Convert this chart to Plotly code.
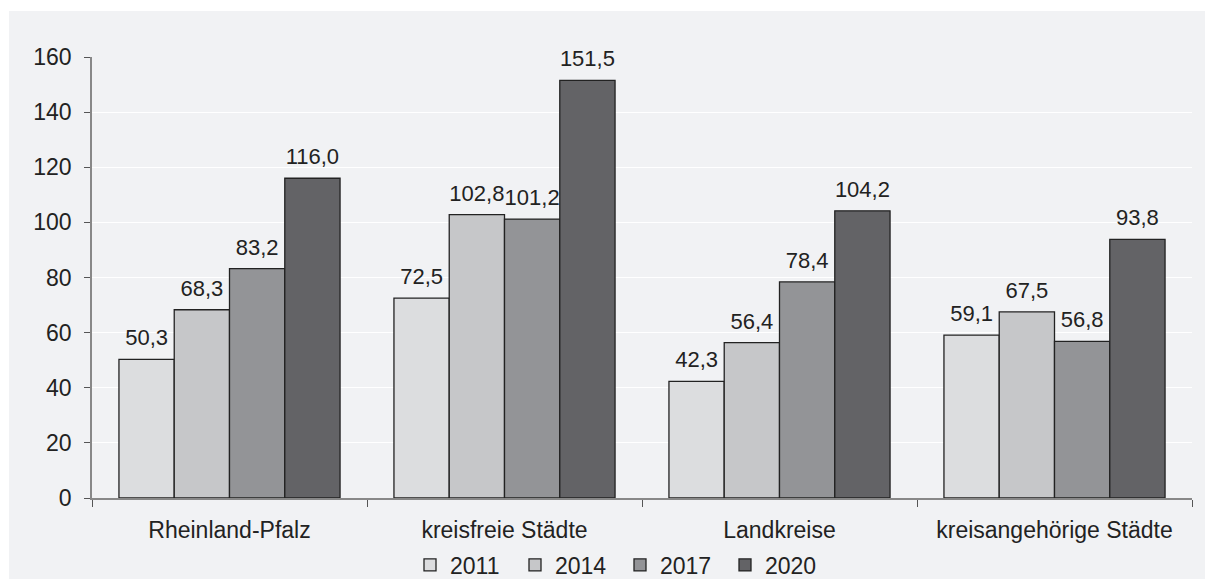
import plotly.graph_objects as go

categories = ["Rheinland-Pfalz", "kreisfreie Städte", "Landkreise", "kreisangehörige Städte"]
years = ["2011", "2014", "2017", "2020"]
v2011 = [50.3, 72.5, 42.3, 59.1]
v2014 = [68.3, 102.8, 56.4, 67.5]
v2017 = [83.2, 101.2, 78.4, 56.8]
v2020 = [116.0, 151.5, 104.2, 93.8]
colors = ["#dcdddf", "#c6c7c9", "#939497", "#636366"]
series = [v2011, v2014, v2017, v2020]

FONT = "Liberation Sans, Arial, sans-serif"
FS = 23

fig = go.Figure()
for name, vals, col in zip(years, series, colors):
    fig.add_trace(go.Bar(
        x=categories, y=vals, name=name, offsetgroup=name,
        marker=dict(color=col, line=dict(color="#222222", width=1.3)),
    ))
for name, vals in zip(years, series):
    fig.add_trace(go.Scatter(
        x=categories, y=vals, name=name, offsetgroup=name,
        mode="markers+text", marker=dict(size=12, color="rgba(0,0,0,0)"),
        text=[f"{v:.1f}".replace(".", ",") for v in vals],
        textposition="top center",
        textfont=dict(family=FONT, size=22, color="#222222"),
        showlegend=False, cliponaxis=False, hoverinfo="skip",
    ))

L, R, T, B = 92, 13, 57, 81
W, H = 1205, 579
pw, ph = W - L - R, H - T - B

fig.add_shape(type="rect", xref="paper", yref="paper",
              x0=(9 - L) / pw, x1=(W + 5 - L) / pw,
              y0=(T + ph - H - 5) / ph, y1=(T + ph - 11) / ph,
              fillcolor="#f1f2f4", line=dict(width=0), layer="below")

fig.update_layout(
    width=W, height=H,
    margin=dict(l=L, r=R, t=T, b=B, autoexpand=False),
    paper_bgcolor="white", plot_bgcolor="rgba(0,0,0,0)",
    barmode="group", bargap=0.196, bargroupgap=0,
    scattermode="group", scattergap=0.196,
    separators=",.",
    font=dict(family=FONT, size=FS, color="#222222"),
    showlegend=True,
    legend=dict(orientation="h", x=(620 - L) / pw, xanchor="center",
                y=(T + ph - 565) / ph, yanchor="middle",
                font=dict(size=FS, color="#222222"), bgcolor="rgba(0,0,0,0)",
                itemwidth=30, traceorder="normal",
                entrywidth=60, entrywidthmode="pixels"),
)
fig.update_xaxes(showgrid=False, showline=True, linecolor="#888888", linewidth=1.5,
                 ticks="outside", tickson="boundaries", ticklen=7, tickcolor="#555555",
                 ticklabelstandoff=11,
                 tickfont=dict(size=FS, color="#222222"))
fig.update_yaxes(range=[0, 160], dtick=20, showgrid=True, gridcolor="#ffffff", gridwidth=1.2,
                 showline=True, linecolor="#888888", linewidth=1.5,
                 ticks="outside", ticklen=6, tickcolor="#555555", ticklabelstandoff=8,
                 zeroline=False, tickfont=dict(size=FS, color="#222222"))

fig.write_html("out.html", config={"displayModeBar": False},
               post_script="document.body.style.margin='0';document.body.style.overflow='hidden';")
